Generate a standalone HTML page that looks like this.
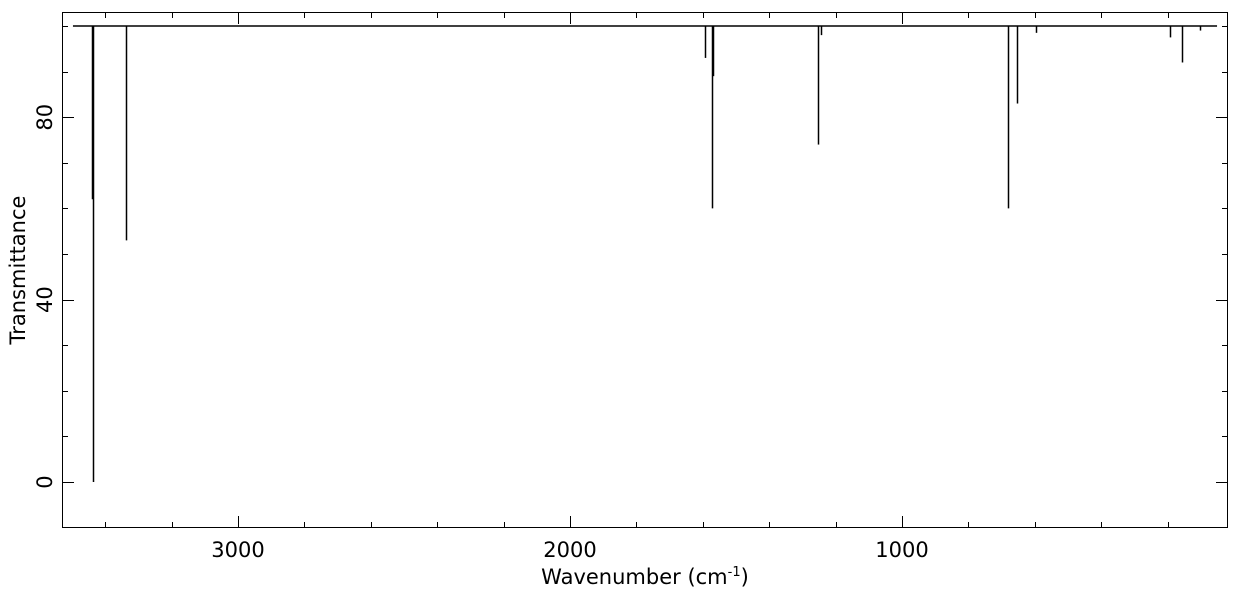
<!DOCTYPE html>
<html><head><meta charset="utf-8"><style>
body{margin:0;background:#fff;}
svg text{font-family:"DejaVu Sans","Liberation Sans",sans-serif;font-size:21px;fill:#000;}
</style></head><body>
<svg id="chart" width="1240" height="590" xmlns="http://www.w3.org/2000/svg">
<g id="axes"></g>
<g id="series"></g>
<text x="645" y="584" text-anchor="middle">Wavenumber (cm<tspan dy="-8" font-size="13">-1</tspan><tspan dy="8">)</tspan></text>
<text transform="translate(25,270) rotate(-90)" text-anchor="middle">Transmittance</text>
</svg>
<script>
const peakWavenumbers = [3437, 3439, 3337, 1593, 1572, 1570, 1253, 1244, 681, 655, 597, 193, 157, 102];
const peakTransmittance = [0, 62, 53, 93, 60, 89, 74, 98, 60, 83, 98.5, 97.5, 92, 99];
const baselineRange = [3497, 51];
const baselineValue = 100;
const xTicks = [3000, 2000, 1000];
const yTicks = [0, 40, 80];

const L=62,R=1228,T=12,B=528;
const xMin=3530,xMax=18,yMin=-10.08,yMax=103.07;
const xs=v=>L+(xMin-v)/(xMin-xMax)*(R-L);
const ys=v=>B-(v-yMin)/(yMax-yMin)*(B-T);
const NS="http://www.w3.org/2000/svg";
const axes=document.getElementById('axes'), series=document.getElementById('series');
function line(p,x1,y1,x2,y2,w){const l=document.createElementNS(NS,'line');l.setAttribute('x1',x1);l.setAttribute('y1',y1);l.setAttribute('x2',x2);l.setAttribute('y2',y2);l.setAttribute('stroke','#000');l.setAttribute('stroke-width',w||1);p.appendChild(l);return l;}
const frame=document.createElementNS(NS,'rect');
frame.setAttribute('x',L+0.5);frame.setAttribute('y',T+0.5);frame.setAttribute('width',R-L-1);frame.setAttribute('height',B-T-1);
frame.setAttribute('fill','none');frame.setAttribute('stroke','#000');


axes.appendChild(frame);
for(let v=3400;v>=200;v-=200){const x=Math.round(xs(v))+0.5;const major=v%1000===0;const len=major?12:6;
 const t1=line(axes,x,B,x,B-len);
 const t2=line(axes,x,T,x,T+len);}
xTicks.forEach(v=>{const t=document.createElementNS(NS,'text');t.setAttribute('x',xs(v));t.setAttribute('y',557);t.setAttribute('text-anchor','middle');t.textContent=v;
 
 
 axes.appendChild(t);});
for(let v=0;v<=100;v+=10){const y=Math.round(ys(v))+0.5;const major=v%40===0;const len=major?12:6;
 const t1=line(axes,L,y,L+len,y);
 const t2=line(axes,R,y,R-len,y);}
yTicks.forEach(v=>{const t=document.createElementNS(NS,'text');t.setAttribute('transform',`translate(52,${ys(v)}) rotate(-90)`);t.setAttribute('text-anchor','middle');t.textContent=v;
 
 
 axes.appendChild(t);});
const bl=line(series,xs(baselineRange[0]),ys(baselineValue),xs(baselineRange[1]),ys(baselineValue),1.5);


peakWavenumbers.forEach((w,i)=>{const x=Math.round(xs(w))+0.5;
 const p=line(series,x,ys(baselineValue),x,ys(peakTransmittance[i]),1.5);
 
 });
</script>
</body></html>
